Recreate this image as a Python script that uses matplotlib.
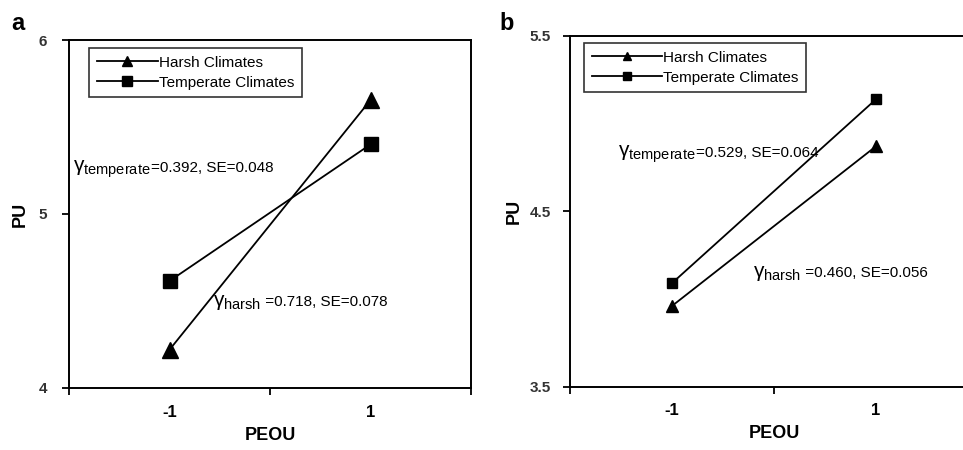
import matplotlib
matplotlib.use('Agg')
from matplotlib import pyplot as plt

plt.rcParams['font.family'] = ['Liberation Sans', 'DejaVu Sans']
plt.rcParams['mathtext.fontset'] = 'custom'
plt.rcParams['mathtext.rm'] = 'Liberation Sans'
plt.rcParams['mathtext.it'] = 'Liberation Sans'

# data
peou = [-1, 1]
peou_labels = ['-1', '1']
harsh_a = [4.22, 5.655]
temperate_a = [4.615, 5.40]
harsh_b = [3.96, 4.87]
temperate_b = [4.09, 5.138]

series_names = ['Harsh Climates', 'Temperate Climates']
gam_a = [r'$\gamma_{\mathrm{temperate}}$', r'$\gamma_{\mathrm{harsh}}$']
rest_a = ['=0.392, SE=0.048', ' =0.718, SE=0.078']
gam_b = [r'$\gamma_{\mathrm{temperate}}$', r'$\gamma_{\mathrm{harsh}}$']
rest_b = ['=0.529, SE=0.064', ' =0.460, SE=0.056']

fig = plt.figure(figsize=(9.63, 4.5), dpi=100)
notes = []

def panel(rect, harsh, temp, ylim, yticks, ylabels, msizes, legsizes, leg_anchor, ypad, ylabpad,
          hlen, gams, rests, note_xy):
    ax = fig.add_axes(rect)
    ax.plot(peou, harsh, color='black', lw=1.3, marker='^', ms=msizes[0], label=series_names[0])
    ax.plot(peou, temp, color='black', lw=1.3, marker='s', ms=msizes[1], label=series_names[1])
    ax.set_xlim(-2, 2)
    ax.set_ylim(*ylim)
    ax.set_xticks([-2, 0, 2])
    ax.set_xticklabels([])
    ax.set_xticks(peou, minor=True)
    ax.set_xticklabels(peou_labels, minor=True, fontsize=12, fontweight='bold')
    ax.tick_params(axis='x', which='minor', length=0, pad=12)
    ax.tick_params(axis='x', which='major', length=5, width=1.3, direction='out')
    ax.set_yticks(yticks)
    ax.set_yticklabels(ylabels, fontsize=11, fontweight='bold', color='#333333')
    ax.tick_params(axis='y', length=5, width=1.3, direction='out', pad=ypad)
    for s in ax.spines.values():
        s.set_linewidth(1.4)
    ax.set_xlabel('PEOU', fontsize=13, fontweight='bold', labelpad=5)
    ax.set_ylabel('PU', fontsize=13, fontweight='bold', labelpad=ylabpad)
    leg = ax.legend(loc='upper left', bbox_to_anchor=leg_anchor, fontsize=11, frameon=True,
                    fancybox=False, edgecolor='black', handlelength=hlen, borderaxespad=0,
                    borderpad=0.5, labelspacing=0.4, handletextpad=0.1)
    for h, s in zip(leg.legend_handles, legsizes):
        h.set_markersize(s)
    leg.get_frame().set_linewidth(1.2)
    for g, r, (x, y) in zip(gams, rests, note_xy):
        t1 = ax.text(x, y, g, fontsize=15, va='baseline', ha='left')
        notes.append((ax, t1, r, y))
    return ax

panel([0.0717, 0.1378, 0.4174, 0.7733], harsh_a, temperate_a, (4, 6), [4, 5, 6], ['4', '5', '6'],
      (11, 10.5), (7, 6.5), (0.05, 0.977), 11, 7, 4, gam_a, rest_a, [(-1.96, 5.241), (-0.57, 4.471)])
panel([0.5919, 0.1407, 0.4237, 0.78], harsh_b, temperate_b, (3.5, 5.5), [3.5, 4.5, 5.5],
      ['3.5', '4.5', '5.5'], (9, 7.7), (6, 5.5), (0.034, 0.979), 9, 5, 4.6, gam_b, rest_b,
      [(-1.53, 4.809), (-0.21, 4.125)])

# put the numbers right after each gamma, same baseline
fig.canvas.draw()
rend = fig.canvas.get_renderer()
for ax, t1, r, y in notes:
    bb = t1.get_window_extent(rend)
    x1 = ax.transData.inverted().transform((bb.x1, 0))[0]
    ax.text(x1, y, r, fontsize=11, va='baseline', ha='left')

fig.text(0.012, 0.933, 'a', fontsize=17, fontweight='bold', va='baseline')
fig.text(0.519, 0.933, 'b', fontsize=17, fontweight='bold', va='baseline')

plt.savefig('out.png', dpi=100)
